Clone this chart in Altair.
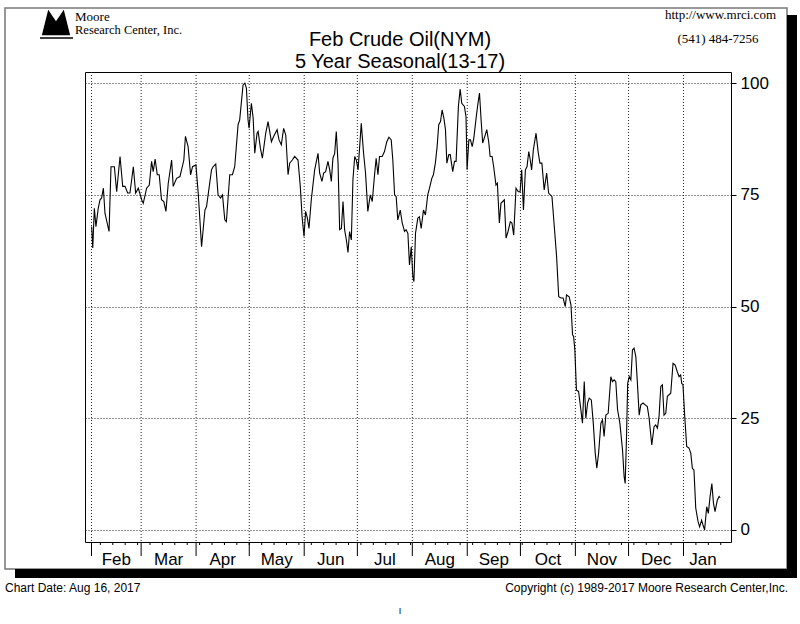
import altair as alt
import pandas as pd

# ---- data (days since Feb 1, seasonal index 0-100) ----
days = [0.1, 0.7, 1.6, 2.5, 3.8, 4.8, 5.7, 6.7, 7.6, 9.9, 11.0, 12.9, 14.2, 16.1, 17.6, 18.9, 20.4, 21.7,
        23.6, 24.9, 26.4, 28.3, 29.2, 31.1, 32.6, 33.9, 34.8, 35.9, 37.1, 38.2, 39.5, 40.8, 42.0, 43.3,
        45.2, 46.1, 48.0, 49.9, 50.8, 52.1, 53.0, 54.5, 55.9, 57.0, 58.9, 60.2, 62.1, 64.0, 64.9, 67.7,
        68.6, 70.1, 71.4, 72.8, 73.9, 75.2, 76.1, 78.0, 79.5, 80.8, 82.7, 83.6, 85.5, 86.5, 87.4, 88.3,
        88.9, 90.2, 91.2, 92.1, 93.4,
        94.0, 95.3, 96.4, 98.3, 99.6, 101.5, 102.8, 104.7, 105.8, 107.1, 108.4, 109.6, 110.9, 111.8,
        113.3, 114.6, 116.5, 117.8, 118.8, 119.9, 120.8, 121.8, 122.7, 124.0, 125.9, 127.8, 128.7,
        130.0, 131.0, 132.1, 133.4, 134.4, 135.3, 136.2, 137.2, 138.1, 139.1, 140.0, 141.0, 141.9,
        142.8, 143.8, 144.7, 145.6, 146.6, 147.5, 148.5, 149.4, 150.4, 152.2, 153.5, 154.6, 155.9,
        157.3, 158.4, 159.7, 160.6, 161.6, 162.5, 164.0, 165.3, 166.6, 167.8, 169.1, 170.0, 171.0,
        171.9, 172.8, 174.2, 175.3, 176.6, 177.5, 178.5, 179.4, 180.4, 181.3, 181.9, 182.8, 184.1,
        185.0, 186.0, 187.3, 188.4, 189.7, 190.7, 192.0, 192.9, 194.0, 195.0, 195.9, 196.9, 197.8,
        198.8, 199.7, 200.5, 201.6, 202.4, 203.8, 204.8, 205.7, 207.0, 208.0, 208.9, 210.4, 211.3,
        211.9, 212.9, 213.8, 214.8, 215.7, 217.0, 217.9, 218.9, 219.8, 220.7, 221.9, 223.0, 224.1,
        224.9, 226.0, 226.9, 228.2, 229.0, 230.1, 231.0, 232.9, 233.9, 235.0, 236.3, 237.2, 238.2,
        239.5, 240.8, 241.8, 242.7, 243.7, 244.8, 245.7, 246.7, 247.4, 248.3, 249.3, 250.8, 252.1,
        253.0,
        254.1, 255.4, 256.8, 257.9, 259.8, 261.1, 262.4, 263.6, 264.9, 266.1, 267.3, 268.0, 269.5,
        270.5, 271.4, 272.0, 272.7, 273.6, 274.8, 276.1, 277.0, 278.0, 278.9, 279.9, 280.8, 282.0,
        283.1, 284.2, 285.1, 286.1, 287.4, 288.3, 289.2, 290.2, 291.5, 293.0, 293.9, 294.9, 295.8,
        296.8, 298.1, 299.6, 300.5, 301.1, 301.9, 302.5, 303.4, 304.3, 305.2, 306.1, 307.1, 308.0,
        309.0, 309.9, 311.2, 312.4, 313.6, 314.6, 316.1, 317.4, 318.3, 319.3, 320.2, 321.2, 322.1,
        323.0, 324.0, 324.9, 326.8, 328.1, 329.3, 330.5, 331.5, 332.4, 333.0, 333.7, 334.7, 335.8,
        337.1, 338.1, 339.0, 339.9, 340.9, 342.2, 343.1, 344.2, 345.0, 345.9, 347.1, 348.0, 349.0,
        350.0, 350.9, 351.8, 353.1, 354.1, 354.7]
values = [67.9, 63.1, 72.0, 67.9, 72.0, 73.9, 74.3, 76.5, 70.9, 66.8, 81.3, 81.3, 75.7, 83.6, 76.9, 76.9, 75.4, 75.4,
          81.3, 75.4, 76.5, 73.9, 73.1, 76.5, 77.2, 82.5, 80.2, 83.0, 79.5, 79.5, 73.9, 73.5, 71.3, 77.6,
          82.8, 76.9, 78.7, 79.1, 80.6, 82.8, 88.1, 85.8, 79.5, 81.3, 81.7, 75.4, 63.4, 71.6, 72.4, 80.6,
          81.3, 81.9, 75.0, 74.3, 75.0, 69.4, 69.0, 79.5, 79.5, 81.3, 90.7, 91.8, 99.6, 100.0, 98.9, 91.8,
          89.9, 95.5, 92.2, 84.3, 88.8,
          89.2, 85.4, 83.2, 88.8, 91.4, 86.9, 88.1, 89.6, 87.3, 86.2, 89.9, 88.4, 79.5, 82.1,
          82.8, 83.6, 82.8, 76.9, 70.1, 65.7, 71.3, 69.8, 67.5, 73.9, 80.6, 84.3, 79.9,
          78.0, 79.9, 80.2, 82.5, 80.6, 78.0, 83.2, 84.3, 89.2, 82.1, 67.2, 67.5, 73.5,
          67.2, 64.9, 62.1, 66.8, 64.9, 78.4, 83.6, 82.8, 80.6, 91.0, 84.3, 79.9, 71.3,
          75.0, 73.5, 79.5, 83.2, 79.5, 83.6, 83.6, 84.7, 86.9, 87.9, 87.3, 82.8, 75.0,
          74.6, 69.4, 71.6, 68.7, 66.8, 67.2, 66.4, 59.3, 63.4, 56.7, 55.6, 66.4, 69.8,
          70.1, 67.5, 71.6, 70.5, 75.0, 76.5, 78.7, 79.5, 82.1, 85.8, 90.7, 91.4, 94.0,
          92.2, 89.6, 82.1, 84.0, 84.0, 80.2, 82.5, 82.5, 94.8, 98.7, 95.5, 94.8, 92.5,
          80.6, 87.3, 87.3, 85.8, 87.7, 92.2, 95.1, 97.8, 91.8, 86.6, 88.1, 89.6, 86.9,
          83.6, 83.6, 81.3, 77.2, 77.6, 68.7, 73.1, 73.9, 65.3, 66.8, 69.0, 68.7, 66.0,
          76.5, 75.7, 75.7, 80.6, 71.6, 80.6, 81.3, 84.7, 83.2, 80.6, 85.1, 88.8, 84.3,
          82.1,
          82.1, 76.1, 79.9, 75.4, 74.6, 67.9, 61.2, 52.2, 51.9, 51.9, 50.0, 52.6, 52.2,
          50.4, 43.7, 43.3, 40.3, 31.3, 31.0, 26.9, 23.9, 33.2, 25.0, 28.4, 29.5, 29.1,
          23.9, 17.2, 13.8, 17.2, 23.9, 24.6, 20.9, 25.7, 26.1, 34.3, 33.2, 33.6, 33.2,
          26.9, 23.9, 17.9, 11.9, 10.4, 21.6, 32.8, 34.3, 33.6, 40.3, 40.7, 38.8, 32.8,
          25.7, 28.0, 28.4, 28.0, 27.6, 25.0, 19.0, 23.1, 23.5, 22.8, 25.4, 32.1, 32.5,
          25.7, 26.1, 29.9, 30.6, 37.3, 36.9, 35.4, 34.3, 34.7, 32.8, 32.5, 25.4, 18.7,
          18.3, 17.2, 13.8, 13.4, 4.9, 1.9, 0.7, 2.2, 1.1, 0.0, 5.2, 3.7, 7.5,
          10.4, 6.0, 4.1, 6.7, 7.5, 7.2]

month_starts = [0, 28, 59, 89, 120, 150, 181, 212, 242, 273, 303, 334]
month_names = ["Feb", "Mar", "Apr", "May", "Jun", "Jul", "Aug", "Sep", "Oct", "Nov", "Dec", "Jan"]
month_centers = [14, 43.5, 74, 104.5, 135, 165.5, 196.5, 227, 257.5, 288, 318.5, 345]
week_ticks = [5, 12, 19, 26, 33, 40, 47, 54, 61, 68, 75, 82, 89, 96, 103, 110, 117, 124, 131, 138,
              145, 152, 159, 166, 173, 180, 187, 194, 201, 208, 215, 222, 229, 236, 243, 250, 257,
              264, 271, 278, 285, 292, 299, 306, 313, 320, 327, 334, 341, 348, 355]
y_ticks = [0, 25, 50, 75, 100]

W, H = 646, 470
xs = alt.Scale(domain=[-3.67, 360.8], nice=False, zero=False)
ys = alt.Scale(domain=[-2.7, 102.5], nice=False, zero=False)
SANS = "Liberation Sans"
SERIF = "Liberation Serif"
GRID = "#222222"

one = pd.DataFrame({"k": [0]})


def txt(text, x, y, size, font=SANS, align="left"):
    return alt.Chart(pd.DataFrame({"t": [text]})).mark_text(
        align=align, baseline="alphabetic", fontSize=size, font=font, color="black"
    ).encode(x=alt.value(x), y=alt.value(y), text="t:N")


def box(x, x2, y, y2, **kw):
    return alt.Chart(one).mark_rect(**kw).encode(
        x=alt.value(x), x2=alt.value(x2), y=alt.value(y), y2=alt.value(y2))


frame = box(-80, 702, -64, 497, filled=False, stroke="#777777", strokeWidth=1.5)
shadow_r = box(702, 712, -57, 506, color="black")
shadow_b = box(-70, 712, 497, 506, color="black")

ms_df = pd.DataFrame({"s": month_starts})
mgrid = alt.Chart(ms_df).mark_rule(color=GRID, strokeWidth=1, strokeDash=[1, 2]).encode(
    x=alt.X("s:Q", scale=xs, axis=None), y=alt.value(0), y2=alt.value(H))
mticks = alt.Chart(ms_df).mark_rule(color="black", strokeWidth=1).encode(
    x=alt.X("s:Q", scale=xs, axis=None), y=alt.value(H), y2=alt.value(H + 14))

line_df = pd.DataFrame({"d": days, "v": values})
line = alt.Chart(line_df).mark_line(color="black", strokeWidth=1.1).encode(
    x=alt.X("d:Q", scale=xs, axis=None),
    y=alt.Y("v:Q", scale=ys, axis=alt.Axis(orient="right", values=y_ticks, grid=True, gridDash=[1, 2],
                                          gridColor=GRID, gridOpacity=1, tickSize=5, tickColor="black",
                                          labelFontSize=17, labelFont=SANS, labelColor="black",
                                          labelPadding=4, domain=False, title=None)),
)

weeks = alt.Chart(pd.DataFrame({"w": week_ticks})).mark_rule(color="black", strokeWidth=1).encode(
    x=alt.X("w:Q", scale=xs, axis=None), y=alt.value(H), y2=alt.value(H + 3))

months = alt.Chart(pd.DataFrame({"m": month_names, "c": month_centers})).mark_text(
    fontSize=17, font=SANS, color="black", baseline="alphabetic", align="center"
).encode(x=alt.X("c:Q", scale=xs, axis=None), y=alt.value(493), text="m:N")

logo = alt.Chart(one).mark_point(
    shape="M-1,0.8L-0.55,-1L0,-0.2L0.55,-1L1,0.8Z", filled=True, color="black", opacity=1, size=800
).encode(x=alt.value(-29), y=alt.value-48 if False else alt.value(-48))
logo_line = alt.Chart(one).mark_rule(color="black", strokeWidth=1.5).encode(
    x=alt.value(-45), x2=alt.value(-12), y=alt.value(-34))

chart = alt.layer(
    frame, shadow_r, shadow_b,
    mgrid, mticks, weeks,
    line, months,
    logo, logo_line,
    txt("Moore", -10, -51, 13, SERIF),
    txt("Research Center, Inc.", -10, -38, 12.5, SERIF),
    txt("http://www.mrci.com", 691, -53, 13, SERIF, "right"),
    txt("(541) 484-7256", 633, -29, 13, SERIF, "center"),
    txt("Feb Crude Oil(NYM)", 315, -26, 20, SANS, "center"),
    txt("5 Year Seasonal(13-17)", 315, -4, 20, SANS, "center"),
    txt("Chart Date: Aug 16, 2017", -80, 520, 12, SANS),
    txt("Copyright (c) 1989-2017 Moore Research Center,Inc.", 703, 520, 12, SANS, "right"),
    txt("I", 315, 542, 9, SANS, "center"),
).properties(
    width=W, height=H,
    autosize=alt.AutoSizeParams(type="none"),
    padding={"left": 85, "top": 72, "right": 69, "bottom": 82},
    background="white",
).configure_view(stroke="black", strokeWidth=1)

chart.save("out.html", embed_options={"renderer": "svg", "actions": False})
